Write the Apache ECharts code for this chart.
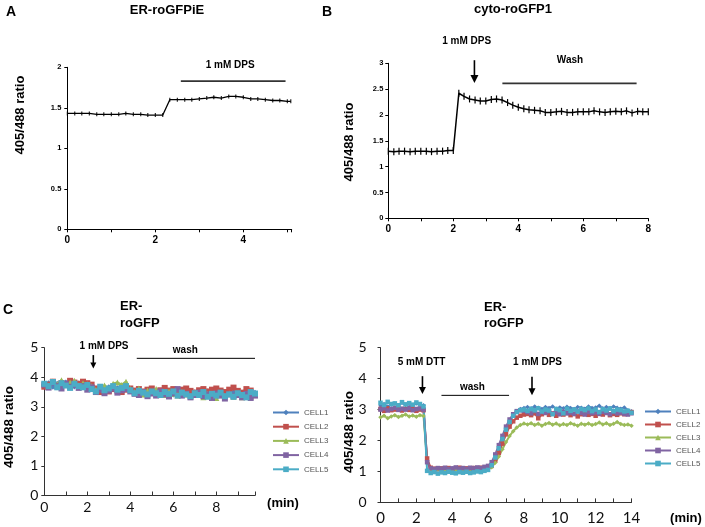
<!DOCTYPE html>
<html><head><meta charset="utf-8">
<script src="https://cdn.jsdelivr.net/npm/echarts@6/dist/echarts.min.js"></script>
<style>html,body{margin:0;padding:0;background:#fff}#c{width:705px;height:527px}</style>
</head><body><div id="c"></div>
<script>
// ---------- Panel A: ER-roGFPiE ----------
const timeA = [0,0.17,0.33,0.5,0.67,0.83,1,1.17,1.33,1.5,1.67,1.83,2,2.17,2.33,2.5,2.67,2.83,3,3.17,3.33,3.5,3.67,3.83,4,4.17,4.33,4.5,4.67,4.83,5,5.08];
const ratioA = [1.43,1.43,1.43,1.43,1.42,1.42,1.42,1.42,1.43,1.42,1.42,1.41,1.41,1.41,1.60,1.60,1.60,1.60,1.61,1.62,1.63,1.62,1.64,1.64,1.63,1.61,1.61,1.60,1.59,1.59,1.58,1.58];
// ---------- Panel B: cyto-roGFP1 ----------
const timeB = [0,0.17,0.33,0.5,0.67,0.83,1,1.17,1.33,1.5,1.67,1.83,2,2.17,2.33,2.5,2.67,2.83,3,3.17,3.33,3.5,3.67,3.83,4,4.17,4.33,4.5,4.67,4.83,5,5.17,5.33,5.5,5.67,5.83,6,6.17,6.33,6.5,6.67,6.83,7,7.17,7.33,7.5,7.67,7.83,8];
const ratioB = [1.30,1.29,1.30,1.30,1.29,1.30,1.30,1.30,1.29,1.30,1.30,1.31,1.31,
  2.42,2.36,2.31,2.29,2.27,2.27,2.30,2.31,2.29,2.24,2.19,2.15,2.12,2.10,2.09,2.08,2.05,2.05,2.06,2.07,2.05,2.05,2.06,2.06,2.06,2.08,2.06,2.05,2.06,2.07,2.06,2.08,2.04,2.07,2.06,2.06];
// ---------- Panel C ----------
const cellNames = ['CELL1','CELL2','CELL3','CELL4','CELL5'];
// C left: ER-roGFP, DPS then wash
const timeC1 = [0,0.2,0.4,0.6,0.8,1,1.2,1.4,1.6,1.8,2,2.2,2.4,2.6,2.8,3,3.2,3.4,3.6,3.8,4,4.2,4.4,4.6,4.8,5,5.2,5.4,5.6,5.8,6,6.2,6.4,6.6,6.8,7,7.2,7.4,7.6,7.8,8,8.2,8.4,8.6,8.8,9,9.2,9.4,9.6,9.8];
const c1Cell1 = [3.72,3.80,3.68,3.78,3.70,3.82,3.74,3.69,3.79,3.72,3.70,3.62,3.55,3.64,3.58,3.66,3.60,3.63,3.68,3.62,3.55,3.48,3.52,3.45,3.50,3.47,3.55,3.44,3.52,3.48,3.42,3.50,3.46,3.53,3.44,3.49,3.41,3.48,3.52,3.43,3.47,3.40,3.49,3.45,3.50,3.42,3.46,3.51,3.44,3.48];
const c1Cell2 = [3.68,3.75,3.85,3.70,3.80,3.76,3.88,3.82,3.78,3.85,3.80,3.75,3.62,3.50,3.58,3.52,3.60,3.55,3.50,3.58,3.62,3.55,3.60,3.52,3.58,3.62,3.50,3.56,3.64,3.55,3.60,3.50,3.58,3.62,3.54,3.48,3.56,3.60,3.52,3.58,3.62,3.55,3.50,3.58,3.65,3.54,3.48,3.60,3.55,3.40];
const c1Cell3 = [3.80,3.72,3.86,3.76,3.90,3.74,3.82,3.88,3.72,3.80,3.76,3.70,3.58,3.66,3.72,3.60,3.78,3.82,3.74,3.85,3.60,3.50,3.62,3.42,3.55,3.48,3.60,3.45,3.40,3.52,3.44,3.38,3.50,3.42,3.35,3.46,3.40,3.32,3.44,3.38,3.30,3.42,3.36,3.45,3.34,3.40,3.32,3.38,3.35,3.42];
const c1Cell4 = [3.75,3.65,3.82,3.70,3.62,3.78,3.68,3.74,3.64,3.70,3.58,3.66,3.50,3.58,3.46,3.55,3.62,3.48,3.56,3.60,3.52,3.44,3.40,3.50,3.36,3.45,3.38,3.52,3.42,3.35,3.46,3.60,3.38,3.44,3.32,3.40,3.48,3.36,3.42,3.30,3.45,3.38,3.28,3.42,3.36,3.40,3.32,3.44,3.30,3.38];
const c1Cell5 = [3.78,3.70,3.84,3.66,3.80,3.72,3.64,3.78,3.70,3.66,3.74,3.60,3.52,3.68,3.56,3.62,3.70,3.58,3.64,3.70,3.56,3.46,3.54,3.48,3.42,3.52,3.46,3.40,3.50,3.44,3.52,3.38,3.48,3.42,3.36,3.46,3.40,3.50,3.34,3.44,3.38,3.48,3.36,3.42,3.34,3.46,3.40,3.32,3.50,3.45];
// C right: ER-roGFP, DTT, wash, DPS
const timeC2 = [0,0.2,0.4,0.6,0.8,1,1.2,1.4,1.6,1.8,2,2.2,2.4,2.6,2.8,3,3.2,3.4,3.6,3.8,4,4.2,4.4,4.6,4.8,5,5.2,5.4,5.6,5.8,6,6.2,6.4,6.6,6.8,7,7.2,7.4,7.6,7.8,8,8.2,8.4,8.6,8.8,9,9.2,9.4,9.6,9.8,10,10.2,10.4,10.6,10.8,11,11.2,11.4,11.6,11.8,12,12.2,12.4,12.6,12.8,13,13.2,13.4,13.6,13.8,14];
const c2Cell1 = [3.12,3.18,3.10,3.16,3.20,3.14,3.22,3.15,3.18,3.12,3.20,3.16,3.14,
  1.35,
  1.10,1.06,1.08,1.05,1.09,1.07,1.10,1.06,1.08,1.11,1.07,1.09,1.12,1.08,1.10,1.13,1.15,
  1.25,1.48,1.78,2.08,2.38,2.62,2.82,2.95,3.02,3.05,
  3.08,3.04,3.10,3.06,3.02,3.08,3.05,3.10,3.03,3.07,3.04,3.09,3.05,3.02,3.08,3.06,3.03,3.10,3.05,3.07,3.12,3.04,3.08,3.05,3.10,3.06,3.03,3.07,2.98,2.95];
const c2Cell2 = [3.02,2.96,3.04,2.98,3.00,3.05,2.97,3.02,2.99,3.03,2.96,3.00,2.98,
  1.42,
  1.12,1.09,1.07,1.10,1.08,1.11,1.06,1.09,1.12,1.08,1.10,1.07,1.11,1.09,1.12,1.10,1.14,
  1.18,1.35,1.60,1.90,2.20,2.45,2.62,2.74,2.80,2.84,
  2.86,2.82,2.88,2.72,2.85,2.90,2.83,2.87,2.80,2.86,2.84,2.89,2.82,2.86,2.78,2.85,2.88,2.83,2.86,2.80,2.87,2.84,2.90,2.82,2.86,2.83,2.88,2.85,2.90,2.92];
const c2Cell3 = [2.75,2.80,2.72,2.78,2.82,2.76,2.80,2.84,2.78,2.81,2.77,2.82,2.79,
  1.30,
  1.06,1.04,1.07,1.03,1.05,1.08,1.04,1.06,1.03,1.07,1.05,1.08,1.04,1.06,1.09,1.07,1.10,
  1.14,1.28,1.48,1.72,1.95,2.15,2.30,2.42,2.50,2.55,
  2.52,2.56,2.50,2.54,2.48,2.53,2.57,2.51,2.55,2.49,2.53,2.50,2.56,2.52,2.48,2.54,2.51,2.55,2.50,2.53,2.58,2.52,2.56,2.50,2.54,2.60,2.53,2.50,2.52,2.48];
const c2Cell4 = [3.00,3.04,2.97,3.02,3.06,2.99,3.03,3.00,3.05,2.98,3.02,3.04,3.00,
  1.30,
  1.10,1.08,1.11,1.09,1.12,1.08,1.10,1.13,1.09,1.11,1.08,1.12,1.10,1.13,1.11,1.15,1.18,
  1.30,1.55,1.85,2.15,2.45,2.68,2.85,2.95,2.98,2.96,
  2.92,2.88,2.95,2.86,2.92,2.89,2.94,2.87,2.91,2.85,2.93,2.88,2.90,2.86,2.94,2.89,2.84,2.92,2.88,2.91,2.86,2.93,2.89,2.85,2.92,2.88,2.90,2.86,2.84,2.88];
const c2Cell5 = [3.22,3.15,3.25,3.18,3.20,3.14,3.24,3.17,3.21,3.16,3.23,3.18,3.10,
  1.02,
  0.95,0.98,0.93,0.97,0.95,0.99,0.96,0.94,0.98,0.96,0.99,0.95,0.97,1.00,0.98,1.02,1.05,
  1.20,1.45,1.75,2.05,2.35,2.60,2.80,2.92,2.98,3.00,
  2.96,3.02,2.98,3.04,2.94,3.00,2.97,2.85,3.02,2.98,2.88,3.03,2.96,3.00,2.94,3.02,2.98,3.04,2.95,3.00,2.92,3.01,2.97,3.03,2.95,3.00,2.98,2.94,2.96,2.90];

// ---------- styling / layout ----------
const cellColors = ['#4F81BD','#C0504D','#9BBB59','#8064A2','#4BACC6'];
const cellSymbolsL = ['diamond','rect','triangle','rect','rect'];
const cellSymbolsR = ['diamond','rect','diamond','rect','rect'];
const ARIAL = '"Liberation Sans", Arial, sans-serif';
const CAL = 'Lato, "Open Sans", sans-serif';

function pairs(t, v) { return t.map((x, i) => [x, v[i]]); }
const evenLabel = v => (Math.abs(v - Math.round(v)) < 1e-9 && Math.round(v) % 2 === 0) ? String(Math.round(v)) : '';

function xAx(grid, max, opts) {
  return Object.assign({
    type: 'value', gridIndex: grid, min: 0, max: max, interval: 1,
    axisLine: { show: true, onZero: false, lineStyle: { color: '#000', width: 1 } },
    axisTick: { show: true, length: 3, lineStyle: { color: '#000' } },
    splitLine: { show: false },
    axisLabel: { formatter: evenLabel, color: '#000', fontFamily: ARIAL, fontWeight: 'bold', fontSize: 10, margin: 6, showMaxLabel: true }
  }, opts || {});
}
function yAx(grid, max, interval, opts) {
  return Object.assign({
    type: 'value', gridIndex: grid, min: 0, max: max, interval: interval,
    axisLine: { show: true, lineStyle: { color: '#000', width: 1 } },
    axisTick: { show: true, length: 3, lineStyle: { color: '#000' } },
    splitLine: { show: false },
    axisLabel: { color: '#000', fontFamily: ARIAL, fontWeight: 'bold', fontSize: 7.5, margin: 6 }
  }, opts || {});
}

const cLabelX = (size, margin) => ({ formatter: evenLabel, color: '#111', fontFamily: CAL, fontSize: size, margin: margin, showMaxLabel: true });
const cLabelY = (margin) => ({ color: '#111', fontFamily: CAL, fontSize: 14, margin: margin });

const series = [
  { type: 'line', xAxisIndex: 0, yAxisIndex: 0, data: pairs(timeA, ratioA), symbol: 'rect', symbolSize: [1, 4], showAllSymbol: true,
    lineStyle: { color: '#000', width: 1.3 }, itemStyle: { color: '#000' }, animation: false, z: 3 },
  { type: 'line', xAxisIndex: 1, yAxisIndex: 1, data: pairs(timeB, ratioB), symbol: 'rect', symbolSize: [1.2, 7], showAllSymbol: true,
    lineStyle: { color: '#000', width: 1.5 }, itemStyle: { color: '#000' }, animation: false, z: 3 }
];
const c1Data = [c1Cell1, c1Cell2, c1Cell3, c1Cell4, c1Cell5];
const c2Data = [c2Cell1, c2Cell2, c2Cell3, c2Cell4, c2Cell5];
c1Data.forEach((v, i) => series.push({
  type: 'line', name: cellNames[i], xAxisIndex: 2, yAxisIndex: 2, data: pairs(timeC1, v),
  symbol: cellSymbolsL[i], symbolSize: 6, showAllSymbol: true, animation: false,
  lineStyle: { color: cellColors[i], width: 2.5 }, itemStyle: { color: cellColors[i] }
}));
c2Data.forEach((v, i) => series.push({
  type: 'line', name: cellNames[i], xAxisIndex: 3, yAxisIndex: 3, data: pairs(timeC2, v),
  symbol: cellSymbolsR[i], symbolSize: 4.5, showAllSymbol: true, animation: false,
  lineStyle: { color: cellColors[i], width: 2 }, itemStyle: { color: cellColors[i] }
}));

const legendCommon = {
  data: cellNames, orient: 'vertical', itemWidth: 26, itemHeight: 7, selectedMode: false,
  textStyle: { fontSize: 8, color: '#555', fontFamily: ARIAL }, padding: 0
};

const option = {
  backgroundColor: '#fff',
  animation: false,
  grid: [
    { left: 67.3, top: 67.3, width: 224.4, height: 162 },
    { left: 388.3, top: 63.3, width: 260, height: 155 },
    { left: 44.3, top: 347.7, width: 210.7, height: 147.8 },
    { left: 380.5, top: 347.7, width: 251, height: 154.7 }
  ],
  xAxis: [
    xAx(0, 5.1),
    xAx(1, 8),
    xAx(2, 9.8, { axisLine: { show: true, onZero: false, lineStyle: { color: '#333' } }, axisTick: { show: true, inside: true, length: 4, lineStyle: { color: '#333' } }, axisLabel: cLabelX(14, 5) }),
    xAx(3, 14, { axisLine: { show: true, onZero: false, lineStyle: { color: '#333' } }, axisTick: { show: true, inside: true, length: 4, lineStyle: { color: '#333' } }, axisLabel: cLabelX(15, 8) })
  ],
  yAxis: [
    yAx(0, 2, 0.5),
    yAx(1, 3, 0.5, { axisLabel: { color: '#000', fontFamily: ARIAL, fontWeight: 'bold', fontSize: 7.5, margin: 5 } }),
    yAx(2, 5, 1, { axisLine: { show: true, lineStyle: { color: '#333' } }, axisTick: { show: true, length: 3, lineStyle: { color: '#333' } }, axisLabel: cLabelY(6) }),
    yAx(3, 5, 1, { axisLine: { show: true, lineStyle: { color: '#333' } }, axisTick: { show: true, length: 3, lineStyle: { color: '#333' } }, axisLabel: cLabelY(14) })
  ],
  legend: [
    Object.assign({ left: 272, top: 408.5, itemGap: 6.2 }, legendCommon),
    Object.assign({ left: 644, top: 407.5, itemGap: 5.0 }, legendCommon)
  ],
  series: series
};

const chart = echarts.init(document.getElementById('c'), null, { renderer: 'canvas' });
chart.setOption(option);

// ---------- annotations placed in data units, converted through the axes ----------
const annotations = [
  { grid: 0, kind: 'bar', x1: 2.58, x2: 4.96, y: 1.83, width: 1.8, color: '#333' },
  { grid: 0, kind: 'text', x: 3.70, y: 2.02, text: '1 mM DPS' },
  { grid: 1, kind: 'text', x: 2.41, y: 3.42, text: '1 mM DPS' },
  { grid: 1, kind: 'arrow', x: 2.65, y1: 3.06, y2: 2.62, head: 8 },
  { grid: 1, kind: 'text', x: 5.59, y: 3.06, text: 'Wash' },
  { grid: 1, kind: 'bar', x1: 3.51, x2: 7.64, y: 2.61, width: 1.8, color: '#333' },
  { grid: 2, kind: 'text', x: 2.78, y: 5.06, text: '1 mM DPS' },
  { grid: 2, kind: 'arrow', x: 2.28, y1: 4.75, y2: 4.30, head: 6 },
  { grid: 2, kind: 'text', x: 6.56, y: 4.92, text: 'wash' },
  { grid: 2, kind: 'bar', x1: 4.3, x2: 9.8, y: 4.64, width: 1, color: '#000' },
  { grid: 3, kind: 'text', x: 2.29, y: 4.54, text: '5 mM DTT' },
  { grid: 3, kind: 'arrow', x: 2.34, y1: 4.08, y2: 3.50, head: 7 },
  { grid: 3, kind: 'text', x: 5.13, y: 3.71, text: 'wash' },
  { grid: 3, kind: 'bar', x1: 3.4, x2: 7.17, y: 3.46, width: 1, color: '#000' },
  { grid: 3, kind: 'text', x: 8.76, y: 4.54, text: '1 mM DPS' },
  { grid: 3, kind: 'arrow', x: 8.45, y1: 4.06, y2: 3.46, head: 7 }
];

function txt(x, y, text, font, opts) {
  return Object.assign({
    type: 'text', x: x, y: y, silent: true,
    style: { text: text, font: font, fill: '#000', textAlign: 'center', textVerticalAlign: 'middle', align: 'center', verticalAlign: 'middle' }
  }, opts || {});
}

const gfx = [];
annotations.forEach(a => {
  const P = (x, y) => chart.convertToPixel({ gridIndex: a.grid }, [x, y]);
  if (a.kind === 'bar') {
    const p1 = P(a.x1, a.y), p2 = P(a.x2, a.y);
    gfx.push({ type: 'line', silent: true, shape: { x1: p1[0], y1: p1[1], x2: p2[0], y2: p2[1] }, style: { stroke: a.color, lineWidth: a.width } });
  } else if (a.kind === 'text') {
    const p = P(a.x, a.y);
    gfx.push(txt(p[0], p[1], a.text, 'bold 10px ' + ARIAL));
  } else if (a.kind === 'arrow') {
    const p1 = P(a.x, a.y1), p2 = P(a.x, a.y2);
    const h = a.head;
    gfx.push({ type: 'line', silent: true, shape: { x1: p1[0], y1: p1[1], x2: p2[0], y2: p2[1] - h + 1 }, style: { stroke: '#000', lineWidth: 1.6 } });
    gfx.push({ type: 'polygon', silent: true, shape: { points: [[p2[0] - h / 2, p2[1] - h], [p2[0] + h / 2, p2[1] - h], [p2[0], p2[1]]] }, style: { fill: '#000' } });
  }
});

// panel letters, titles, axis names
const titleFont = 'bold 13px ' + ARIAL;
const leftText = (x, y, t) => ({ type: 'text', x: x, y: y, silent: true,
  style: { text: t, font: titleFont, fill: '#000', textAlign: 'left', align: 'left', textVerticalAlign: 'middle', verticalAlign: 'middle' } });
gfx.push(txt(11, 12, 'A', 'bold 14px ' + ARIAL));
gfx.push(txt(327, 12, 'B', 'bold 14px ' + ARIAL));
gfx.push(txt(8, 310, 'C', 'bold 14px ' + ARIAL));
gfx.push(txt(167, 10, 'ER-roGFPiE', titleFont));
gfx.push(txt(513, 9, 'cyto-roGFP1', titleFont));
gfx.push(leftText(120, 306.7, 'ER-'));
gfx.push(leftText(120, 323.3, 'roGFP'));
gfx.push(leftText(484, 307.5, 'ER-'));
gfx.push(leftText(484, 323.5, 'roGFP'));
const yName = '405/488 ratio';
gfx.push(txt(20, 115, yName, 'bold 13px ' + ARIAL, { rotation: Math.PI / 2 }));
gfx.push(txt(349, 142, yName, 'bold 13px ' + ARIAL, { rotation: Math.PI / 2 }));
gfx.push(txt(9, 427, yName, 'bold 13.5px ' + ARIAL, { rotation: Math.PI / 2 }));
gfx.push(txt(349, 432, yName, 'bold 13.5px ' + ARIAL, { rotation: Math.PI / 2 }));
gfx.push(txt(283, 503, '(min)', 'bold 13px ' + ARIAL));
gfx.push(txt(686, 518, '(min)', 'bold 13px ' + ARIAL));

chart.setOption({ graphic: { elements: gfx } });
</script>
</body></html>
